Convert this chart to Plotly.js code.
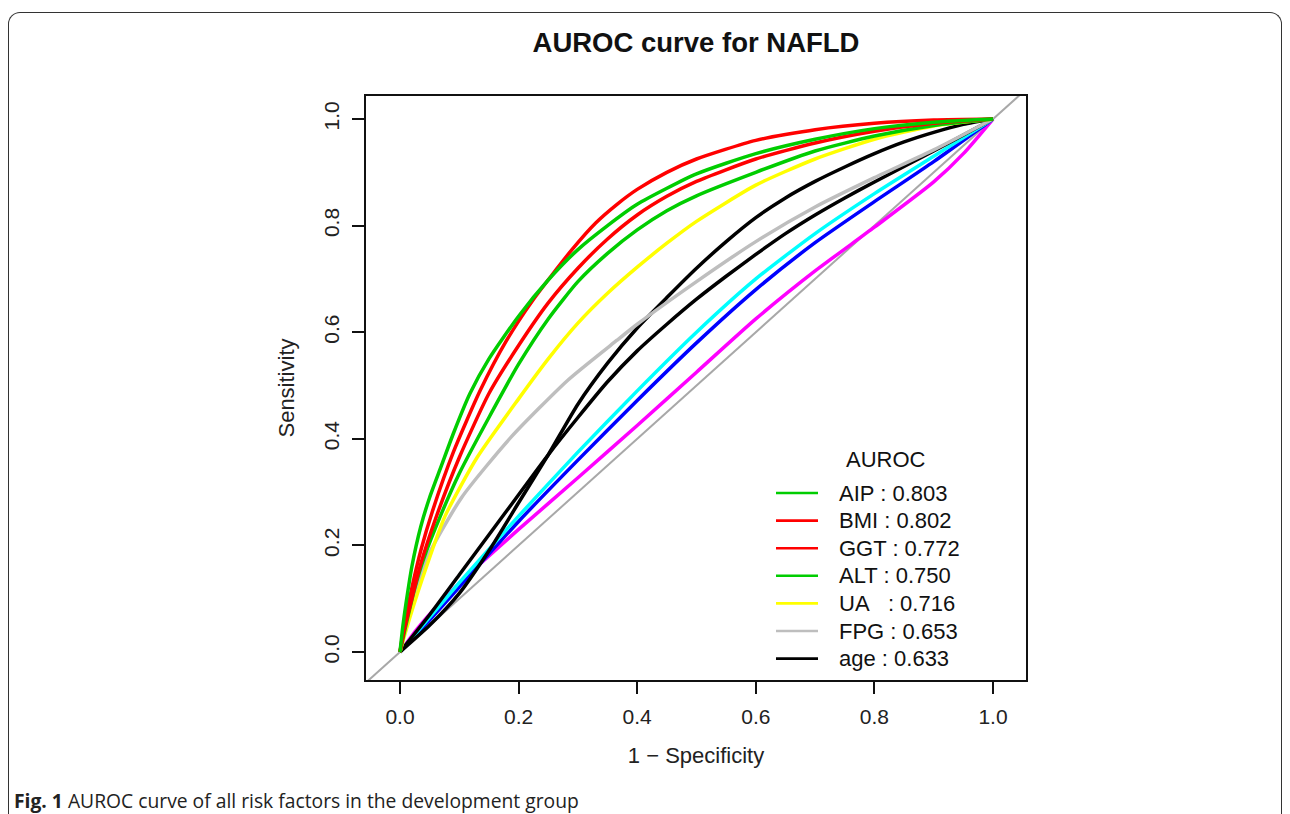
<!DOCTYPE html>
<html>
<head>
<meta charset="utf-8">
<script src="https://cdn.plot.ly/plotly-3.0.1.min.js"></script>
<style>
  html, body { margin:0; padding:0; background:#fff; }
  #frame { position:absolute; left:8px; top:12px; width:1272px; height:840px;
           border:1.5px solid #333; border-bottom:none; border-radius:12px 12px 0 0; }
  #chart { position:absolute; left:0; top:0; width:1290px; height:814px; }
</style>
</head>
<body>
<div id="frame"></div>
<div id="chart"></div>
<script>
// ---- data (1 - specificity, sensitivity) ----
const aipFpr = [0,0.005,0.01,0.02,0.035,0.05,0.07,0.09,0.118,0.15,0.2,0.25,0.3,0.35,0.4,0.5,0.6,0.7,0.8,0.9,1];
const aipTpr = [0,0.05,0.09,0.16,0.235,0.29,0.35,0.41,0.485,0.55,0.63,0.698,0.755,0.8,0.84,0.897,0.935,0.962,0.982,0.994,1];

const bmiFpr = [0,0.005,0.01,0.02,0.035,0.055,0.09,0.135,0.18,0.224,0.29,0.33,0.366,0.4,0.45,0.5,0.6,0.7,0.8,0.9,1];
const bmiTpr = [0,0.035,0.065,0.12,0.19,0.265,0.375,0.49,0.585,0.66,0.755,0.805,0.84,0.868,0.9,0.925,0.96,0.98,0.992,0.998,1];

const ggtFpr = [0,0.005,0.01,0.02,0.035,0.06,0.1,0.15,0.2,0.25,0.3,0.35,0.4,0.45,0.5,0.6,0.7,0.8,0.9,1];
const ggtTpr = [0,0.03,0.055,0.1,0.165,0.25,0.365,0.485,0.575,0.655,0.72,0.775,0.82,0.855,0.883,0.925,0.955,0.977,0.992,1];

const altFpr = [0,0.005,0.01,0.025,0.04,0.07,0.1,0.15,0.2,0.25,0.3,0.35,0.4,0.45,0.5,0.6,0.7,0.8,0.9,1];
const altTpr = [0,0.025,0.05,0.12,0.175,0.26,0.335,0.44,0.54,0.625,0.695,0.748,0.792,0.828,0.856,0.9,0.94,0.968,0.988,1];

const uaFpr = [0,0.01,0.037,0.076,0.13,0.2,0.25,0.3,0.35,0.4,0.45,0.5,0.6,0.7,0.8,0.9,1];
const uaTpr = [0,0.04,0.135,0.255,0.365,0.475,0.55,0.617,0.673,0.722,0.767,0.808,0.876,0.925,0.962,0.987,1];

const fpgFpr = [0,0.005,0.01,0.02,0.045,0.104,0.188,0.283,0.366,0.4,0.5,0.6,0.7,0.8,0.9,1];
const fpgTpr = [0,0.025,0.05,0.09,0.175,0.29,0.404,0.51,0.585,0.615,0.695,0.77,0.835,0.89,0.942,1];

const ageFpr = [0,0.05,0.1,0.15,0.2,0.25,0.3,0.35,0.4,0.45,0.5,0.55,0.6,0.65,0.7,0.75,0.8,0.85,0.9,0.95,1];
const ageTpr = [0,0.05,0.11,0.19,0.28,0.37,0.465,0.542,0.608,0.665,0.72,0.77,0.815,0.852,0.883,0.91,0.935,0.957,0.975,0.99,1];

const black2Fpr = [0,0.05,0.1,0.15,0.2,0.25,0.3,0.35,0.4,0.45,0.5,0.55,0.6,0.65,0.7,0.75,0.8,0.85,0.9,0.95,1];
const black2Tpr = [0,0.07,0.145,0.22,0.295,0.37,0.44,0.507,0.565,0.615,0.662,0.705,0.746,0.785,0.82,0.852,0.882,0.911,0.94,0.97,1];

const cyanFpr = [0,0.05,0.1,0.2,0.3,0.4,0.5,0.6,0.7,0.8,0.9,1];
const cyanTpr = [0,0.065,0.13,0.255,0.375,0.49,0.6,0.7,0.785,0.86,0.93,1];

const blueFpr = [0,0.05,0.1,0.2,0.3,0.4,0.5,0.6,0.7,0.8,0.9,1];
const blueTpr = [0,0.06,0.122,0.245,0.36,0.472,0.58,0.68,0.768,0.845,0.92,1];

const magentaFpr = [0,0.03,0.07,0.12,0.2,0.3,0.4,0.5,0.6,0.7,0.8,0.9,0.95,1];
const magentaTpr = [0,0.045,0.095,0.15,0.23,0.327,0.425,0.525,0.625,0.715,0.797,0.882,0.935,1];

const diagX = [-0.1, 1.1];
const diagY = [-0.1, 1.1];

const legendLabels = ['AIP : 0.803','BMI : 0.802','GGT : 0.772','ALT : 0.750','UA\u00a0\u00a0 : 0.716','FPG : 0.653','age : 0.633'];
const legendColors = ['#00cd00','#ff0000','#ff0000','#00cd00','#ffff00','#bebebe','#000000'];
const tickVals = [0, 0.2, 0.4, 0.6, 0.8, 1.0];
const tickText = ['0.0','0.2','0.4','0.6','0.8','1.0'];

// ---- traces ----
const FONT = 'Liberation Sans, Arial, sans-serif';
const W = 3.5;
function curve(x, y, color, name, width) {
  return { type:'scatter', mode:'lines', x:x, y:y, name:name, showlegend:false,
           line:{ color:color, width:width || W, shape:'spline', smoothing:0.6 },
           hoverinfo:'skip' };
}
const traces = [
  curve(diagX, diagY, '#a8a8a8', 'diagonal', 2),
  curve(magentaFpr, magentaTpr, '#ff00ff', 'magenta'),
  curve(blueFpr, blueTpr, '#0000ff', 'blue'),
  curve(cyanFpr, cyanTpr, '#00ffff', 'cyan'),
  curve(black2Fpr, black2Tpr, '#000000', 'black'),
  curve(ageFpr, ageTpr, legendColors[6], legendLabels[6]),
  curve(fpgFpr, fpgTpr, legendColors[5], legendLabels[5]),
  curve(uaFpr, uaTpr, legendColors[4], legendLabels[4]),
  curve(altFpr, altTpr, legendColors[3], legendLabels[3]),
  curve(ggtFpr, ggtTpr, legendColors[2], legendLabels[2]),
  curve(bmiFpr, bmiTpr, legendColors[1], legendLabels[1]),
  curve(aipFpr, aipTpr, legendColors[0], legendLabels[0])
];

// ---- layout geometry (pixels -> paper) ----
const PL = 366, PR = 1026, PT = 96, PB = 680;
const px = v => (v - PL) / (PR - PL);
const py = v => (PB - v) / (PB - PT);

const axisCommon = {
  showgrid:false, zeroline:false, showline:true, mirror:true, linewidth:2, linecolor:'#111',
  ticks:'outside', ticklen:12, tickwidth:2, tickcolor:'#111',
  tickvals:tickVals, ticktext:tickText, tickfont:{ family:FONT, size:21, color:'#222' }
};

const shapes = [];
const annotations = [
  { text:'AUROC', xref:'paper', yref:'paper', x:px(886), y:py(459), xanchor:'center', yanchor:'middle',
    showarrow:false, font:{ family:FONT, size:22, color:'#111' } },
  { text:'<b>Fig. 1</b> AUROC curve of all risk factors in the development group',
    xref:'paper', yref:'paper', x:px(12), y:py(801), xanchor:'left', yanchor:'middle',
    showarrow:false, font:{ family:'Open Sans, Noto Sans, sans-serif', size:19.3, color:'#222' } }
];
legendLabels.forEach((lab, i) => {
  const yc = 493 + i * 27.6;
  shapes.push({ type:'line', xref:'paper', yref:'paper', x0:px(776), x1:px(818), y0:py(yc), y1:py(yc),
                line:{ color:legendColors[i], width:2.6 } });
  annotations.push({ text:lab, xref:'paper', yref:'paper', x:px(837), y:py(yc), xanchor:'left', yanchor:'middle',
                     showarrow:false, font:{ family:FONT, size:22, color:'#111' } });
});

const layout = {
  width:1290, height:814,
  margin:{ l:PL, r:1290 - PR, t:PT, b:814 - PB },
  paper_bgcolor:'rgba(0,0,0,0)', plot_bgcolor:'#fff',
  font:{ family:FONT, color:'#111' },
  showlegend:false,
  title:{ text:'<b>AUROC curve for NAFLD</b>', font:{ family:FONT, size:27.5, color:'#111' },
          xref:'paper', x:0.5, xanchor:'center', y:0.948, yanchor:'middle' },
  xaxis:Object.assign({}, axisCommon, {
    range:[-0.0573, 1.0556], ticklabelstandoff:5,
    title:{ text:'1 \u2212 Specificity', font:{ family:FONT, size:22, color:'#222' }, standoff:20 }
  }),
  yaxis:Object.assign({}, axisCommon, {
    range:[-0.0525, 1.0432], tickangle:-90, ticklabelstandoff:5,
    title:{ text:'Sensitivity', font:{ family:FONT, size:22, color:'#222' }, standoff:19 }
  }),
  shapes:shapes,
  annotations:annotations
};

Plotly.newPlot('chart', traces, layout, { displayModeBar:false, staticPlot:true });
</script>
</body>
</html>
